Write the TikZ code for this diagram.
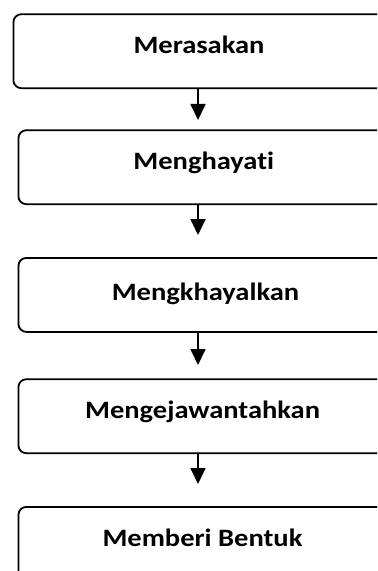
\documentclass[tikz,border=0pt]{standalone}
\usepackage{fontspec}
\setmainfont{Carlito}[FakeStretch=1.14,Ligatures=NoCommon]
\usetikzlibrary{arrows.meta}
\begin{document}
\begin{tikzpicture}[x=1bp,y=-1bp,
  box/.style={draw, line width=1.8bp, rounded corners=8bp, minimum height=74bp, inner sep=0pt, anchor=north west},
  lbl/.style={font=\fontsize{25bp}{30bp}\selectfont\bfseries, anchor=base, inner sep=0pt},
  arr/.style={line width=1.8bp, -{Triangle[width=15bp,length=16bp]}}]
\useasboundingbox (0,0) rectangle (377,571);
\clip (0,0) rectangle (377,571);
\node[box, minimum width=371.5bp] (b1) at (12.5,13.3) {};
\node[box, minimum width=366.5bp] (b2) at (17.5,129.3) {};
\node[box, minimum width=366.5bp] (b3) at (17.5,257) {};
\node[box, minimum width=366.5bp] (b4) at (17.5,378.3) {};
\node[box, minimum width=366.5bp] (b5) at (17.5,506) {};
\node[lbl] (l1) at (199,53.3) {Merasakan};
\node[lbl] (l2) at (203.8,170) {Menghayati};
\node[lbl] (l3) at (205.5,300) {Mengkhayalkan};
\node[lbl] (l4) at (202.6,418) {Mengejawantahkan};
\node[lbl] (l5) at (202.5,546.7) {Memberi Bentuk};
\coordinate (t1) at (198,120);
\coordinate (t2) at (198,235);
\coordinate (t3) at (198,365);
\coordinate (t4) at (198,484);
\draw[arr] (b1.south -| t1) -- (t1);
\draw[arr] (b2.south -| t2) -- (t2);
\draw[arr] (b3.south -| t3) -- (t3);
\draw[arr] (b4.south -| t4) -- (t4);
\end{tikzpicture}
\end{document}
